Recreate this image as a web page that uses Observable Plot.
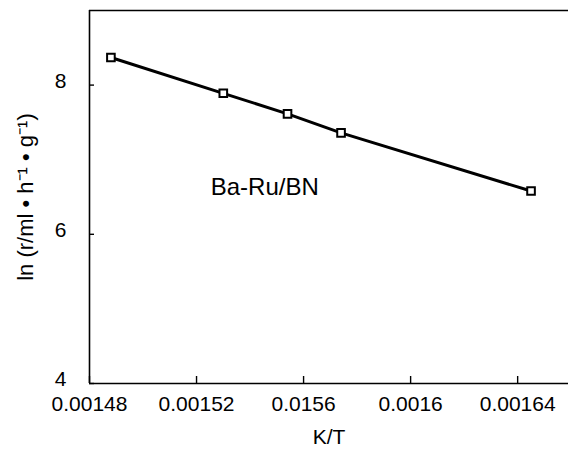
<!DOCTYPE html>
<html>
<head>
<meta charset="utf-8">
<script src="https://cdn.jsdelivr.net/npm/d3@7"></script>
<script src="https://cdn.jsdelivr.net/npm/@observablehq/plot@0.6"></script>
<style>
  html, body { margin: 0; padding: 0; background: #fff; }
  #chart svg { display: block; }
</style>
</head>
<body>
<div id="chart"></div>
<script>
// Data
const invT = [0.001488, 0.00153, 0.001554, 0.001574, 0.001645];
const lnRate = [8.37, 7.89, 7.615, 7.36, 6.58];
const xTicks = [0.00148, 0.00152, 0.00156, 0.0016, 0.00164];
const xTickLabels = ["0.00148", "0.00152", "0.0156", "0.0016", "0.00164"];
const yTicks = [4, 6, 8];
const seriesLabel = ["Ba-Ru/BN"];
const seriesLabelPos = [{x: 0.0015455, y: 6.63}];
const xLabel = "K/T";
const yLabel = "ln (r/ml \u2022 h\u207B\u00B9 \u2022 g\u207B\u00B9)";

const data = invT.map((x, i) => ({x, y: lnRate[i]}));
const font = "'Liberation Sans', Arial, Helvetica, sans-serif";

const chart = Plot.plot({
  width: 568,
  height: 452,
  marginLeft: 89,
  marginRight: 0,
  marginTop: 10,
  marginBottom: 69,
  style: {fontFamily: font, color: "#000", background: "#fff"},
  x: {domain: [0.00148, 0.001659]},
  y: {domain: [4, 9]},
  marks: [
    Plot.ruleY([4, 9], {stroke: "#000", strokeWidth: 1.6}),
    Plot.ruleX([0.00148], {stroke: "#000", strokeWidth: 1.6}),
    Plot.axisX(xTicks, {tickSize: -7, tickFormat: () => "", strokeWidth: 1.4, label: null}),
    Plot.axisX(xTicks, {tickSize: 0, tickPadding: 13, fontSize: 21,
      tickFormat: (d, i) => xTickLabels[i], label: null}),
    Plot.axisY(yTicks, {tickSize: -5, tickFormat: () => "", strokeWidth: 1.4, label: null}),
    Plot.axisY(yTicks, {tickSize: 0, tickPadding: 23, fontSize: 21, dy: -4,
      tickFormat: d => String(d), label: null}),
    Plot.text([xLabel], {frameAnchor: "bottom", dy: 60, fontSize: 21}),
    Plot.text([yLabel], {frameAnchor: "left", textAnchor: "middle", rotate: -90, dx: -64, fontSize: 22}),
    Plot.line(data, {x: "x", y: "y", stroke: "#000", strokeWidth: 3}),
    Plot.dot(data, {x: "x", y: "y", symbol: "square", r: 4.3, fill: "#fff", stroke: "#000", strokeWidth: 2}),
    Plot.text(seriesLabelPos, {x: "x", y: "y", text: (d, i) => seriesLabel[i], fontSize: 24})
  ]
});
document.getElementById("chart").appendChild(chart);
</script>
</body>
</html>
